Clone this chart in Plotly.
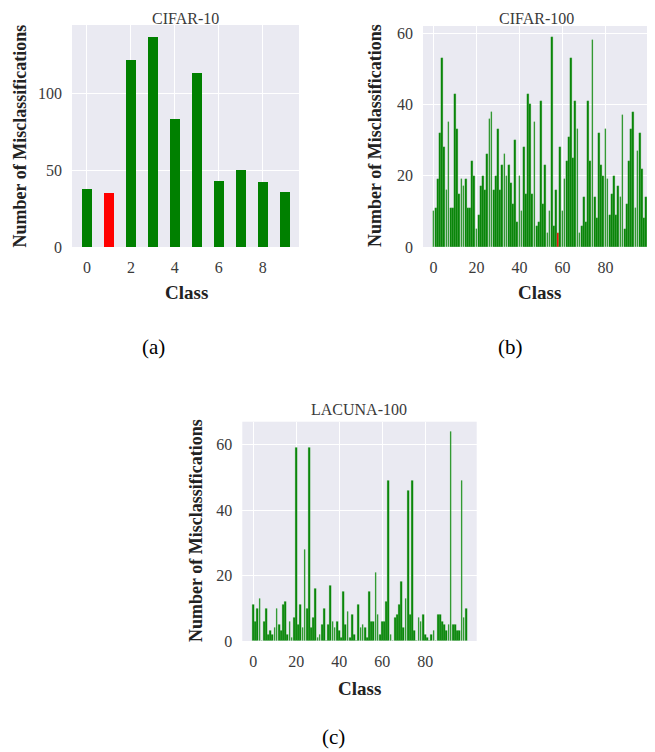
import plotly.graph_objects as go

# the page body has an 8px margin, so the figure is drawn 8px in
PAGE_W, PAGE_H = 655, 752
OFF = 8
W, H = PAGE_W - OFF, PAGE_H - OFF

# ---------------- data ----------------
cifar10_classes = list(range(10))
cifar10_values = [38, 35, 122, 137, 83, 113, 43, 50, 42, 36]
cifar10_red_class = 1

cifar100_classes = list(range(100))
cifar100_values = [
    10, 11, 19, 32, 53, 28, 16, 35, 11, 11,
    43, 33, 15, 19, 17, 19, 11, 11, 24, 20,
    5, 9, 17, 20, 16, 26, 36, 38, 16, 20,
    33, 16, 23, 26, 20, 23, 18, 12, 30, 7,
    20, 10, 28, 15, 43, 40, 15, 35, 6, 7,
    41, 12, 23, 4, 10, 59, 6, 16, 4, 28,
    10, 19, 24, 31, 53, 25, 41, 33, 4, 6,
    14, 7, 41, 24, 58, 14, 8, 32, 23, 20,
    33, 19, 9, 15, 20, 9, 17, 14, 37, 5,
    12, 24, 33, 38, 11, 27, 32, 22, 8, 14,
]
cifar100_red_class = 58

lacuna_classes = list(range(100))
lacuna_values = [
    11, 6, 10, 13, 0, 6, 10, 2, 3, 2,
    4, 10, 5, 3, 11, 12, 2, 6, 1, 7,
    59, 5, 11, 4, 28, 10, 59, 4, 7, 16,
    1, 2, 5, 10, 0, 5, 17, 6, 4, 6,
    3, 1, 15, 5, 9, 1, 8, 2, 0, 11,
    4, 5, 4, 1, 15, 6, 6, 21, 8, 2,
    6, 6, 12, 49, 2, 0, 7, 8, 11, 18,
    4, 13, 46, 8, 49, 3, 0, 7, 6, 8,
    2, 1, 0, 2, 3, 0, 8, 8, 6, 5,
    3, 5, 64, 5, 5, 3, 3, 49, 7, 10,
]

titles = ["CIFAR-10", "CIFAR-100", "LACUNA-100"]
captions = ["(a)", "(b)", "(c)"]
x_label = "Class"
y_label = "Number of Misclassifications"

GREEN = "#008000"
RED = "#ff0000"
EDGE = "#5fb35f"
BG = "#eaeaf2"
SERIF = "Liberation Serif, Times New Roman, serif"
TICKC = "#3a3a3a"


def colors(n, red):
    return [RED if i == red else GREEN for i in range(n)]


def px_x(p):
    return (p - OFF) / W


def px_y(p):
    return 1 - (p - OFF) / H


fig = go.Figure()

fig.add_trace(go.Bar(
    x=cifar10_classes, y=cifar10_values, width=0.45,
    marker=dict(color=colors(10, cifar10_red_class), line=dict(width=0)),
    xaxis="x", yaxis="y", showlegend=False))
fig.add_trace(go.Bar(
    x=cifar100_classes, y=cifar100_values, width=0.8,
    marker=dict(color=colors(100, cifar100_red_class),
                line=dict(width=0.3, color=EDGE)),
    xaxis="x2", yaxis="y2", showlegend=False))
fig.add_trace(go.Bar(
    x=lacuna_classes, y=lacuna_values, width=0.8,
    marker=dict(color=GREEN, line=dict(width=0.3, color=EDGE)),
    xaxis="x3", yaxis="y3", showlegend=False))

common_axis = dict(
    showgrid=True, gridcolor="white", gridwidth=1.2,
    zeroline=False, showline=False, ticks="",
    tickfont=dict(family=SERIF, size=16, color=TICKC),
    ticklabelstandoff=9, automargin=False,
)

# panel boxes in page pixels: (left, right, top, bottom)
boxes = {
    "a": (72, 299, 25, 247),
    "b": (423, 649, 26, 247),
    "c": (242.3, 476.7, 421.7, 641),
}


def dom(box):
    x0, x1, y0, y1 = box
    return [px_x(x0), px_x(x1)], [px_y(y1), px_y(y0)]


xa, ya = dom(boxes["a"])
xb, yb = dom(boxes["b"])
xc, yc = dom(boxes["c"])

fig.update_layout(
    width=W, height=H,
    margin=dict(l=0, r=0, t=0, b=0, autoexpand=False),
    paper_bgcolor="white",
    plot_bgcolor=BG,
    bargap=0,
    xaxis=dict(domain=xa, anchor="y", range=[-0.68, 9.65],
               tickvals=[0, 2, 4, 6, 8], **common_axis),
    yaxis=dict(domain=ya, anchor="x", range=[0, 144.5],
               tickvals=[0, 50, 100], **common_axis),
    xaxis2=dict(domain=xb, anchor="y2", range=[-4.9, 100.3],
                tickvals=[0, 20, 40, 60, 80], **common_axis),
    yaxis2=dict(domain=yb, anchor="x2", range=[0, 62],
                tickvals=[0, 20, 40, 60], **common_axis),
    xaxis3=dict(domain=xc, anchor="y3", range=[-5.1, 104.0],
                tickvals=[0, 20, 40, 60, 80], **common_axis),
    yaxis3=dict(domain=yc, anchor="x3", range=[0, 67],
                tickvals=[0, 20, 40, 60], **common_axis),
)

annots = []


def add_text(text, x, y, size, bold=False, angle=0, color=TICKC,
             xanchor="center", yanchor="middle"):
    annots.append(dict(
        text=f"<b>{text}</b>" if bold else text,
        x=px_x(x), y=px_y(y), xref="paper", yref="paper",
        showarrow=False, textangle=angle, borderpad=0,
        xanchor=xanchor, yanchor=yanchor,
        font=dict(family=SERIF, size=size, color=color)))


# titles (top ones anchored to the top of the figure area)
add_text(titles[0], 185.5, 8.5, 16, yanchor="top")
add_text(titles[1], 536, 8.5, 16, yanchor="top")
add_text(titles[2], 359, 409, 16)

# x-axis labels
add_text(x_label, 186, 292, 19, bold=True, color="#222222")
add_text(x_label, 539, 292, 19, bold=True, color="#222222")
add_text(x_label, 359, 688, 19, bold=True, color="#222222")

# y-axis labels
add_text(y_label, 8.5, 136, 18, bold=True, angle=-90, color="#222222",
         xanchor="left")
add_text(y_label, 375, 136, 18, bold=True, angle=-90, color="#222222")
add_text(y_label, 196, 531, 18, bold=True, angle=-90, color="#222222")

# captions
add_text(captions[0], 153, 347, 21, color="black")
add_text(captions[1], 511, 347, 21, color="black")
add_text(captions[2], 333, 737, 21, color="black")

fig.update_layout(annotations=annots)

fig.write_html("out.html")
